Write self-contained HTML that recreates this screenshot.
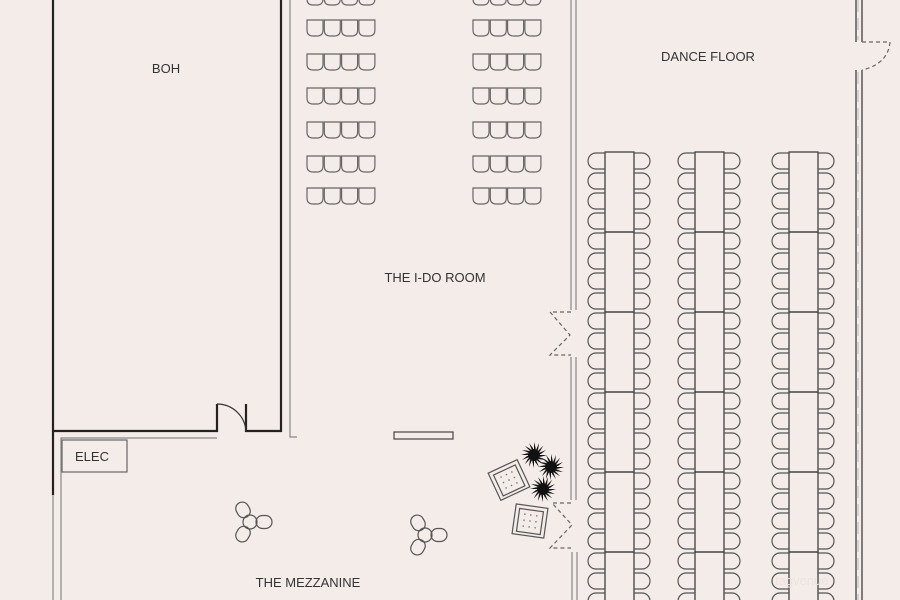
<!DOCTYPE html>
<html><head><meta charset="utf-8"><style>
html,body{margin:0;padding:0;background:#f4ece8;width:900px;height:600px;overflow:hidden}
svg{display:block}
text{font-family:"Liberation Sans",sans-serif;fill:#333;font-size:13px}
</style></head><body>
<svg id="s" width="900" height="600" viewBox="0 0 900 600" xmlns="http://www.w3.org/2000/svg">
<rect width="900" height="600" fill="#f4ece8"/>
<g fill="none" stroke="#222" stroke-width="2.2">
<path d="M53,0 V495"/>
<path d="M281,0 V431 H246 V404"/>
<path d="M53,431 H217 V404"/>
</g>
<path d="M217,404 A29,29 0 0 1 246,431" fill="none" stroke="#333" stroke-width="1.2"/>
<g fill="none" stroke="#888" stroke-width="1.2">
<path d="M290,0 V437 H297"/>
<path d="M61,600 V438 H217"/>
<path d="M53,495 V600"/>
<path d="M571,0 V310 M576,0 V310 M571,357 V500 M576,357 V500 M572,552 V600 M577,552 V600"/>
</g>
<g fill="none" stroke="#333" stroke-width="1.2">
<path d="M856,0 V42 M862,0 V42 M856,70 V600 M862,70 V600"/>
</g>
<path d="M858,0 V40 M858,72 V600" stroke="#ccc" stroke-width="1.5" stroke-dasharray="12 6"/>
<g fill="none" stroke="#666" stroke-width="1.2" stroke-dasharray="4 3">
<path d="M862,42 H890 Q888,64 862,70"/>
<path d="M571,312 H550 L570,335 L550,355 H571"/>
<path d="M571,503 H552 L572,525 L550,548 H571"/>
</g>
<rect x="62" y="440" width="65" height="32" fill="none" stroke="#666" stroke-width="1.2"/>
<text x="75" y="461" font-size="12">ELEC</text>
<rect x="394" y="432" width="59" height="7" fill="none" stroke="#444" stroke-width="1.2"/>
<g id="dyn"></g>
<text x="166" y="73" text-anchor="middle" font-size="14">BOH</text>
<text x="708" y="61" text-anchor="middle">DANCE FLOOR</text>
<text x="435" y="282" text-anchor="middle">THE I-DO ROOM</text>
<text x="308" y="587" text-anchor="middle">THE MEZZANINE</text>
<text x="775" y="585" font-size="26" style="fill:#ebe3df">tagvenue</text>
</svg>
<script>
var g=document.getElementById('dyn'),h='';
var rows=[-11,20,54,88,122,156,188];
[307,473].forEach(function(x0){rows.forEach(function(y){for(var i=0;i<4;i++){var x=x0+i*17.3;
h+='<path d="M'+x+','+y+' H'+(x+16)+' V'+(y+10)+' Q'+(x+16)+','+(y+16)+' '+(x+10)+','+(y+16)+' H'+(x+6)+' Q'+x+','+(y+16)+' '+x+','+(y+10)+' Z" fill="none" stroke="#666" stroke-width="1.2"/>';}});});
[605,695,789].forEach(function(tx){
for(var y=152;y<600;y+=80)h+='<rect x="'+tx+'" y="'+y+'" width="29" height="80" fill="none" stroke="#333" stroke-width="1.2"/>';
for(var y=153;y<600;y+=20){
h+='<path d="M'+tx+','+y+' H'+(tx-9)+' A8,8 0 0 0 '+(tx-9)+','+(y+16)+' H'+tx+'" fill="none" stroke="#555" stroke-width="1.2"/>';
var r=tx+29;
h+='<path d="M'+r+','+y+' H'+(r+8)+' A8,8 0 0 1 '+(r+8)+','+(y+16)+' H'+r+'" fill="none" stroke="#555" stroke-width="1.2"/>';}
});
[[250,522],[425,535]].forEach(function(p){var x=p[0],y=p[1];
h+='<g transform="translate('+x+','+y+')" fill="none" stroke="#555" stroke-width="1.2"><circle r="7"/>';
[0,120,240].forEach(function(a){h+='<rect x="6" y="-6.5" width="16" height="13" rx="6.5" transform="rotate('+a+')"/>';});
h+='</g>';});
[[509,480,-25],[530,521,8]].forEach(function(p){
h+='<g transform="translate('+p[0]+','+p[1]+') rotate('+p[2]+')" fill="none" stroke="#555" stroke-width="1.2"><rect x="-16" y="-15" width="32" height="30"/><rect x="-12" y="-11" width="24" height="23"/>';
for(var i=-1;i<=1;i++)for(var j=-1;j<=1;j++)h+='<circle cx="'+i*6+'" cy="'+j*6+'" r="0.8" fill="#777" stroke="none"/>';
h+='</g>';});
[[534,455],[551,467],[543,489]].forEach(function(p){var d='';
for(var k=0;k<16;k++){var a=k*Math.PI/8,b=a+0.25;d+='M'+p[0]+','+p[1]+' L'+(p[0]+13*Math.cos(a)).toFixed(1)+','+(p[1]+13*Math.sin(a)).toFixed(1)+' L'+(p[0]+7*Math.cos(b)).toFixed(1)+','+(p[1]+7*Math.sin(b)).toFixed(1)+'Z';}
h+='<path d="'+d+'" fill="#111"/><circle cx="'+p[0]+'" cy="'+p[1]+'" r="6" fill="#111"/>';});
g.innerHTML=h;
</script>
</body></html>
